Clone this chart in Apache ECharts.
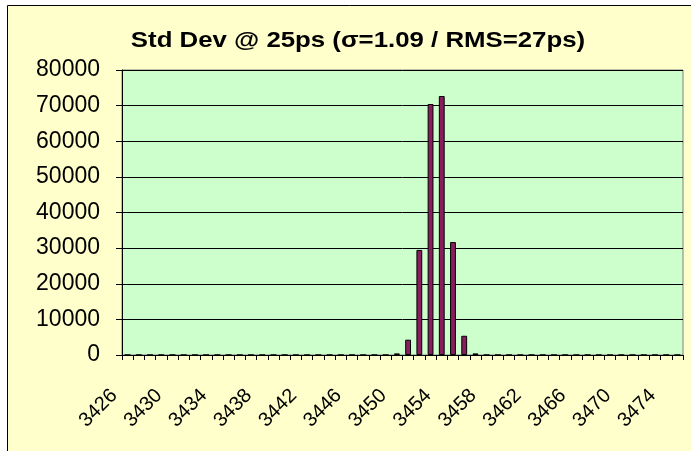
<!DOCTYPE html>
<html><head><meta charset="utf-8">
<script src="https://cdn.jsdelivr.net/npm/echarts@6/dist/echarts.min.js"></script>
<style>html,body{margin:0;padding:0;background:#fff;}#c{width:691px;height:451px;}</style>
</head><body><div id="c"></div>
<script>
const titleText = 'Std Dev @ 25ps (σ=1.09 / RMS=27ps)';
const categories = [];
for (let v = 3426; v <= 3475; v++) categories.push(String(v));
const countValues = [
  0,0,0,0,0,0,0,0,0,0,   // 3426-3435
  0,0,0,0,0,0,0,0,0,0,   // 3436-3445
  0,0,0,0,450,4300,29500,70450,72700,31700, // 3446-3455
  5400,450,0,0,0,0,0,0,0,0, // 3456-3465
  0,0,0,0,0,0,0,0,0,0    // 3466-3475
];
const yTicks = [0, 80000, 10000];

const chart = echarts.init(document.getElementById('c'));
chart.setOption({
  animation: false,
  backgroundColor: '#ffffff',
  graphic: [{
    type: 'rect', silent: true, z: -10,
    shape: {x: 7.5, y: 5.5, width: 700, height: 460},
    style: {fill: '#FFFFCC', stroke: '#000000', lineWidth: 1}
  }, {
    type: 'text', silent: true, z: 10,
    x: 358, y: 41, scaleX: 1.2,
    style: {text: titleText, fontFamily: 'Liberation Sans, Arial', fontWeight: 'bold', fontSize: 21.5,
      fill: '#000', align: 'center', verticalAlign: 'middle'}
  }],
  grid: {left: 122, top: 70, right: 8, bottom: 96, show: true, backgroundColor: '#CCFFCC', borderColor: '#808080', borderWidth: 1},
  xAxis: {
    type: 'category', data: categories, boundaryGap: true,
    axisLine: {lineStyle: {color: '#000', width: 1}},
    axisTick: {show: true, interval: 0, length: 5, lineStyle: {color: '#000'}},
    axisLabel: {interval: 3, rotate: 45, margin: 24, padding: [0, 19, 0, 0], fontFamily: 'Liberation Sans, Arial', fontSize: 20, color: '#000'},
    splitLine: {show: false}
  },
  yAxis: {
    type: 'value', min: yTicks[0], max: yTicks[1], interval: yTicks[2],
    axisLine: {show: true, lineStyle: {color: '#000', width: 1}},
    axisTick: {show: true, length: 6, lineStyle: {color: '#000'}},
    axisLabel: {margin: 22, formatter: v => String(v), fontFamily: 'Liberation Sans, Arial', fontSize: 23, color: '#000'},
    splitLine: {show: true, lineStyle: {color: '#000', width: 1}}
  },
  series: [{
    type: 'bar', data: countValues, barCategoryGap: '48%',
    itemStyle: {color: '#881E5E', borderColor: '#000', borderWidth: 1}
  }]
});
</script></body></html>
